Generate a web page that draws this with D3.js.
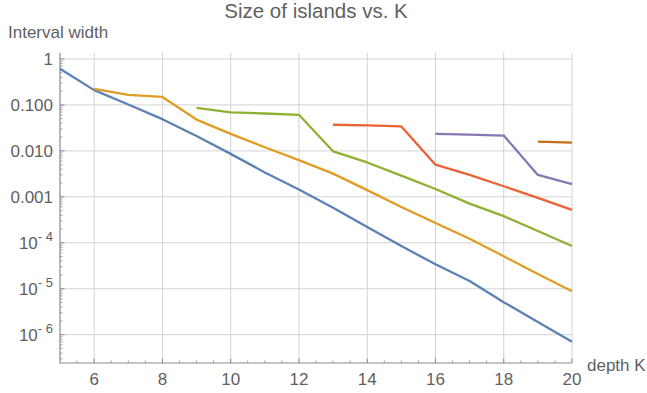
<!DOCTYPE html>
<html>
<head>
<meta charset="utf-8">
<script src="https://cdn.jsdelivr.net/npm/d3@7/dist/d3.min.js"></script>
<style>
  html, body { margin: 0; padding: 0; background: #fff; }
  svg { display: block; font-family: "Liberation Sans", Arial, sans-serif; }
</style>
</head>
<body>
<svg id="chart" width="647" height="393"></svg>
<script>
// Interval width of each island family, by depth K
const depths = [5, 6, 7, 8, 9, 10, 11, 12, 13, 14, 15, 16, 17, 18, 19, 20];
const blueStart = 5;
const blueValues = [0.61, 0.21, 0.102, 0.049, 0.021, 0.0086, 0.0034, 0.00145, 0.00058, 0.00022, 0.000085, 0.000034, 0.0000147, 0.0000051, 0.0000019, 0.0000007];
const orangeStart = 6;
const orangeValues = [0.224, 0.165, 0.149, 0.048, 0.0235, 0.012, 0.0063, 0.0032, 0.0014, 0.0006, 0.00027, 0.000122, 0.000051, 0.000021, 0.0000088];
const greenStart = 9;
const greenValues = [0.086, 0.069, 0.065, 0.061, 0.0098, 0.0056, 0.0029, 0.00148, 0.00071, 0.00038, 0.00018, 0.000085];
const redStart = 13;
const redValues = [0.037, 0.036, 0.034, 0.005, 0.003, 0.0017, 0.00095, 0.00052];
const purpleStart = 16;
const purpleValues = [0.0234, 0.0226, 0.0215, 0.003, 0.0019];
const brownStart = 19;
const brownValues = [0.0159, 0.0151];

const xTicks = [6, 8, 10, 12, 14, 16, 18, 20];
const yTicks = [1, 0.1, 0.01, 0.001, 1e-4, 1e-5, 1e-6];
const yTickLabels = ["1", "0.100", "0.010", "0.001", ["10", "- 4"], ["10", "- 5"], ["10", "- 6"]];

const series = [
  { start: blueStart, values: blueValues, color: "#5E81B5" },
  { start: orangeStart, values: orangeValues, color: "#E19C24" },
  { start: greenStart, values: greenValues, color: "#8FB032" },
  { start: redStart, values: redValues, color: "#EB6235" },
  { start: purpleStart, values: purpleValues, color: "#8778B3" },
  { start: brownStart, values: brownValues, color: "#C56E1A" }
];

const svg = d3.select("#chart");
const plotLeft = 60, plotRight = 572, plotTop = 53, plotBottom = 363;

const x = d3.scaleLinear().domain([d3.min(depths), d3.max(depths)]).range([plotLeft, plotRight]);
const y = d3.scaleLog().domain([Math.pow(10, -6.616), Math.pow(10, 0.13)]).range([plotBottom, plotTop]);

const textColor = "#5f5f5f";
const axisColor = "#8a8a8a";
const gridColor = "#d3d3d3";

// grid lines
svg.append("g").selectAll("line").data(xTicks).join("line")
  .attr("x1", d => x(d)).attr("x2", d => x(d))
  .attr("y1", plotTop).attr("y2", plotBottom)
  .attr("stroke", gridColor).attr("stroke-width", 1);
svg.append("g").selectAll("line").data(yTicks).join("line")
  .attr("x1", plotLeft).attr("x2", plotRight)
  .attr("y1", d => y(d)).attr("y2", d => y(d))
  .attr("stroke", gridColor).attr("stroke-width", 1);

// minor ticks on the log axis
const yMinor = [];
for (let e = -7; e <= 0; e++) {
  for (let m = 2; m <= 9; m++) {
    const v = m * Math.pow(10, e);
    if (v >= y.domain()[0] && v <= y.domain()[1]) yMinor.push(v);
  }
}
const axes = svg.append("g");
axes.append("g").selectAll("line").data(yMinor).join("line")
  .attr("x1", plotLeft).attr("x2", plotLeft + 2.5)
  .attr("y1", d => y(d)).attr("y2", d => y(d))
  .attr("stroke", axisColor).attr("stroke-width", 0.8);
axes.append("g").selectAll("line").data(yTicks).join("line")
  .attr("x1", plotLeft).attr("x2", plotLeft + 4.5)
  .attr("y1", d => y(d)).attr("y2", d => y(d))
  .attr("stroke", axisColor).attr("stroke-width", 1);

const xMinor = d3.range(5.5, 20, 0.5).filter(v => !xTicks.includes(v));
axes.append("g").selectAll("line").data(xMinor).join("line")
  .attr("x1", d => x(d)).attr("x2", d => x(d))
  .attr("y1", plotBottom).attr("y2", plotBottom - 2.5)
  .attr("stroke", axisColor).attr("stroke-width", 0.8);
axes.append("g").selectAll("line").data(xTicks).join("line")
  .attr("x1", d => x(d)).attr("x2", d => x(d))
  .attr("y1", plotBottom).attr("y2", plotBottom - 4.5)
  .attr("stroke", axisColor).attr("stroke-width", 1);

axes.append("line").attr("x1", plotLeft).attr("x2", plotLeft).attr("y1", plotTop).attr("y2", plotBottom + 0.5)
  .attr("stroke", axisColor).attr("stroke-width", 1.2);
axes.append("line").attr("x1", plotLeft).attr("x2", plotRight).attr("y1", plotBottom).attr("y2", plotBottom)
  .attr("stroke", axisColor).attr("stroke-width", 1.2);

// tick labels
svg.append("g").selectAll("text").data(xTicks).join("text")
  .attr("x", d => x(d)).attr("y", 385)
  .attr("text-anchor", "middle").attr("fill", textColor).attr("font-size", 17)
  .text(d => d);

const yl = svg.append("g").selectAll("text").data(yTicks).join("text")
  .attr("x", 53).attr("y", d => y(d) + 6)
  .attr("text-anchor", "end").attr("fill", textColor).attr("font-size", 17);
yl.each(function(d, i) {
  const lab = yTickLabels[i];
  const t = d3.select(this);
  if (Array.isArray(lab)) {
    t.append("tspan").text(lab[0]);
    t.append("tspan").attr("dy", -8).attr("font-size", 13).text(lab[1]);
  } else {
    t.text(lab);
  }
});

// series lines
const line = d3.line().x(d => x(d.k)).y(d => y(d.v));
svg.append("g").selectAll("path").data(series).join("path")
  .attr("d", s => line(s.values.map((v, i) => ({ k: s.start + i, v }))))
  .attr("fill", "none").attr("stroke", s => s.color)
  .attr("stroke-width", 2.3).attr("stroke-linejoin", "round");

// titles
svg.append("text").attr("x", 316).attr("y", 18).attr("text-anchor", "middle")
  .attr("fill", textColor).attr("font-size", 20.5).text("Size of islands vs. K");
svg.append("text").attr("x", 8).attr("y", 38)
  .attr("fill", textColor).attr("font-size", 17).text("Interval width");
svg.append("text").attr("x", 587).attr("y", 371)
  .attr("fill", textColor).attr("font-size", 17).text("depth K");
</script>
</body>
</html>
